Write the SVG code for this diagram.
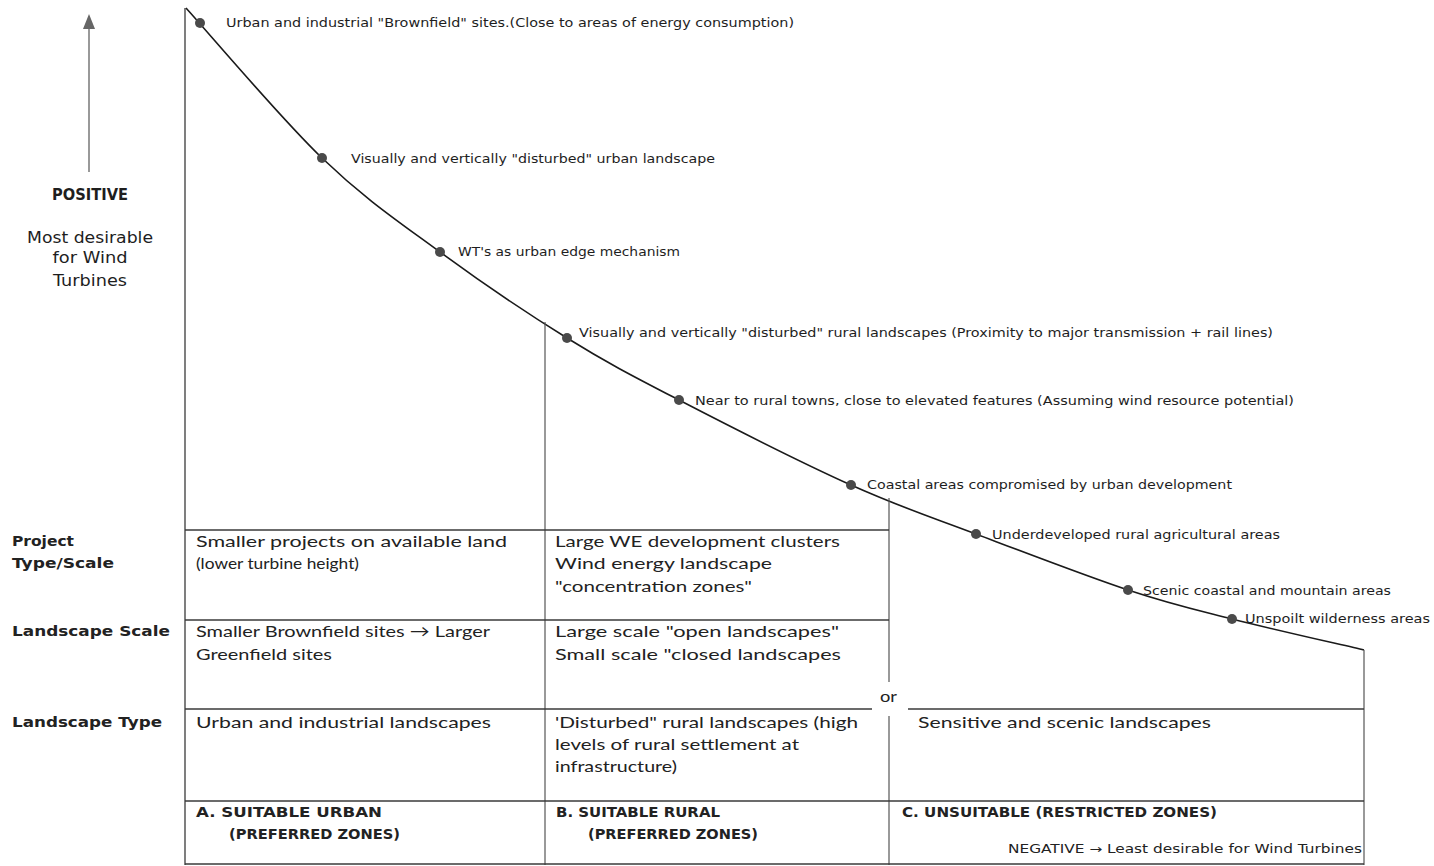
<svg xmlns="http://www.w3.org/2000/svg" width="1434" height="866" viewBox="0 0 1434 866">
<style>
.bg{fill:#fff}
.ln{stroke:#3a3a3a;stroke-width:1.3;fill:none}
.vl{stroke:#555;stroke-width:1.2;fill:none}
.curve{stroke:#1a1a1a;stroke-width:1.6;fill:none}
.dot{fill:#4a4a4a}
.lbl{font-family:"DejaVu Sans","Liberation Sans",sans-serif;font-size:12.5px;fill:#1e1e1e}
.side{font-family:"DejaVu Sans","Liberation Sans",sans-serif;font-size:15px;fill:#1e1e1e;text-anchor:middle}
.hdr{font-family:"DejaVu Sans","Liberation Sans",sans-serif;font-size:14px;font-weight:bold;fill:#222}
.cell{font-family:"Lato","Open Sans",sans-serif;font-size:16px;fill:#222}
.zone{font-family:"DejaVu Sans","Liberation Sans",sans-serif;font-size:13.5px;font-weight:bold;fill:#222}
.neg{font-family:"DejaVu Sans","Liberation Sans",sans-serif;font-size:12px;fill:#222}
</style>
<rect class="bg" x="0" y="0" width="1434" height="866"/>
<g id="connectors">
  <line class="vl" x1="89" y1="172" x2="89" y2="26"/>
  <polygon points="83,29 95,29 89,14" fill="#666"/>
  <line class="ln" x1="185" y1="8" x2="185" y2="865"/>
  <path class="curve" d="M186,8 C208.7,33 279.7,117.3 322,158 C364.3,198.7 399.2,222 440,252 C480.8,282 527.2,313.3 567,338 C606.8,362.7 631.7,375.5 679,400 C726.3,424.5 801.5,462.7 851,485 C900.5,507.3 929.8,516.5 976,534 C1022.2,551.5 1085.3,575.8 1128,590 C1170.7,604.2 1192.7,609 1232,619 C1271.3,629 1342,644.8 1364,650"/>
  <line class="vl" x1="545" y1="322" x2="545" y2="865"/>
  <line class="vl" x1="889" y1="498" x2="889" y2="682"/>
  <line class="vl" x1="889" y1="716" x2="889" y2="865"/>
  <line class="vl" x1="1364" y1="650" x2="1364" y2="865"/>
  <line class="ln" x1="185" y1="530" x2="889" y2="530"/>
  <line class="ln" x1="185" y1="620" x2="889" y2="620"/>
  <line class="ln" x1="185" y1="709" x2="872" y2="709"/>
  <line class="ln" x1="908" y1="709" x2="1364" y2="709"/>
  <line class="ln" x1="185" y1="801" x2="1364" y2="801"/>
  <line class="ln" x1="185" y1="864" x2="1364" y2="864"/>
</g>
<g id="axis-label">
  <text class="side" x="90" y="200" font-weight="bold" textLength="76" lengthAdjust="spacingAndGlyphs">POSITIVE</text>
  <text class="side" x="90" y="243" textLength="126" lengthAdjust="spacingAndGlyphs">Most desirable</text>
  <text class="side" x="90" y="263" textLength="75" lengthAdjust="spacingAndGlyphs">for Wind</text>
  <text class="side" x="90" y="286" textLength="74" lengthAdjust="spacingAndGlyphs">Turbines</text>
</g>
<g id="p1"><circle class="dot" cx="200" cy="23" r="5"/><text class="lbl" x="226" y="27" textLength="568" lengthAdjust="spacingAndGlyphs">Urban and industrial "Brownfield" sites.(Close to areas of energy consumption)</text></g>
<g id="p2"><circle class="dot" cx="322" cy="158" r="5"/><text class="lbl" x="351" y="163" textLength="364" lengthAdjust="spacingAndGlyphs">Visually and vertically "disturbed" urban landscape</text></g>
<g id="p3"><circle class="dot" cx="440" cy="252" r="5"/><text class="lbl" x="458" y="256" textLength="222" lengthAdjust="spacingAndGlyphs">WT's as urban edge mechanism</text></g>
<g id="p4"><circle class="dot" cx="567" cy="338" r="5"/><text class="lbl" x="579" y="337" textLength="694" lengthAdjust="spacingAndGlyphs">Visually and vertically "disturbed" rural landscapes (Proximity to major transmission + rail lines)</text></g>
<g id="p5"><circle class="dot" cx="679" cy="400" r="5"/><text class="lbl" x="695" y="405" textLength="599" lengthAdjust="spacingAndGlyphs">Near to rural towns, close to elevated features (Assuming wind resource potential)</text></g>
<g id="p6"><circle class="dot" cx="851" cy="485" r="5"/><text class="lbl" x="867" y="489" textLength="365" lengthAdjust="spacingAndGlyphs">Coastal areas compromised by urban development</text></g>
<g id="p7"><circle class="dot" cx="976" cy="534" r="5"/><text class="lbl" x="992" y="539" textLength="288" lengthAdjust="spacingAndGlyphs">Underdeveloped rural agricultural areas</text></g>
<g id="p8"><circle class="dot" cx="1128" cy="590" r="5"/><text class="lbl" x="1143" y="595" textLength="248" lengthAdjust="spacingAndGlyphs">Scenic coastal and mountain areas</text></g>
<g id="p9"><circle class="dot" cx="1232" cy="619" r="5"/><text class="lbl" x="1245" y="623" textLength="185" lengthAdjust="spacingAndGlyphs">Unspoilt wilderness areas</text></g>
<g id="row-headers">
  <text class="hdr" x="12" y="546" textLength="62" lengthAdjust="spacingAndGlyphs">Project</text>
  <text class="hdr" x="12" y="568" textLength="102" lengthAdjust="spacingAndGlyphs">Type/Scale</text>
  <text class="hdr" x="12" y="636" textLength="158" lengthAdjust="spacingAndGlyphs">Landscape Scale</text>
  <text class="hdr" x="12" y="727" textLength="150" lengthAdjust="spacingAndGlyphs">Landscape Type</text>
</g>
<g id="cell-a">
  <text class="cell" x="196" y="547" textLength="311" lengthAdjust="spacingAndGlyphs">Smaller projects on available land</text>
  <text class="cell" x="196" y="569" textLength="163" lengthAdjust="spacingAndGlyphs">(lower turbine height)</text>
  <text class="cell" x="196" y="637" textLength="294" lengthAdjust="spacingAndGlyphs">Smaller Brownfield sites → Larger</text>
  <text class="cell" x="196" y="660" textLength="136" lengthAdjust="spacingAndGlyphs">Greenfield sites</text>
  <text class="cell" x="196" y="728" textLength="295" lengthAdjust="spacingAndGlyphs">Urban and industrial landscapes</text>
</g>
<g id="cell-b">
  <text class="cell" x="555" y="547" textLength="285" lengthAdjust="spacingAndGlyphs">Large WE development clusters</text>
  <text class="cell" x="555" y="569" textLength="217" lengthAdjust="spacingAndGlyphs">Wind energy landscape</text>
  <text class="cell" x="555" y="592" textLength="197" lengthAdjust="spacingAndGlyphs">"concentration zones"</text>
  <text class="cell" x="555" y="637" textLength="284" lengthAdjust="spacingAndGlyphs">Large scale "open landscapes"</text>
  <text class="cell" x="555" y="660" textLength="286" lengthAdjust="spacingAndGlyphs">Small scale "closed landscapes</text>
  <text class="cell" x="555" y="728" textLength="303" lengthAdjust="spacingAndGlyphs">'Disturbed" rural landscapes (high</text>
  <text class="cell" x="555" y="750" textLength="244" lengthAdjust="spacingAndGlyphs">levels of rural settlement at</text>
  <text class="cell" x="555" y="772" textLength="122" lengthAdjust="spacingAndGlyphs">infrastructure)</text>
</g>
<g id="cell-c">
  <text class="cell" x="880" y="702" textLength="17" lengthAdjust="spacingAndGlyphs">or</text>
  <text class="cell" x="918" y="728" textLength="293" lengthAdjust="spacingAndGlyphs">Sensitive and scenic landscapes</text>
</g>
<g id="zones">
  <text class="zone" x="196" y="817" textLength="186" lengthAdjust="spacingAndGlyphs">A.  SUITABLE URBAN</text>
  <text class="zone" x="229" y="839" textLength="171" lengthAdjust="spacingAndGlyphs">(PREFERRED ZONES)</text>
  <text class="zone" x="556" y="817" textLength="164" lengthAdjust="spacingAndGlyphs">B.  SUITABLE RURAL</text>
  <text class="zone" x="588" y="839" textLength="170" lengthAdjust="spacingAndGlyphs">(PREFERRED ZONES)</text>
  <text class="zone" x="902" y="817" textLength="315" lengthAdjust="spacingAndGlyphs">C.  UNSUITABLE (RESTRICTED ZONES)</text>
  <text class="neg" x="1008" y="853" textLength="354" lengthAdjust="spacingAndGlyphs">NEGATIVE → Least desirable for Wind Turbines</text>
</g>
</svg>
